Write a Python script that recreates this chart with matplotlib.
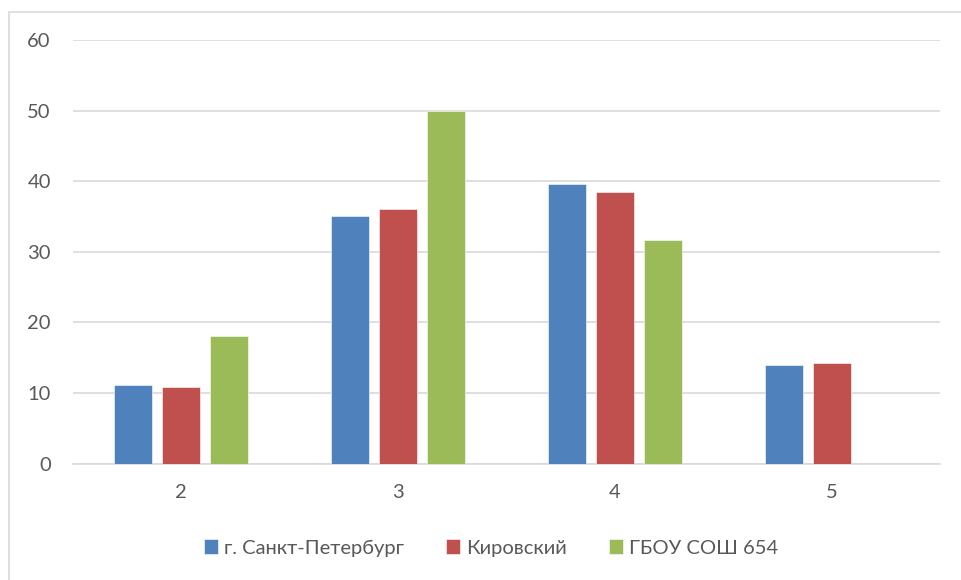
import matplotlib.pyplot as plt
import numpy as np

plt.rcParams['font.family'] = ['Lato', 'DejaVu Sans']

categories = ['2', '3', '4', '5']
series_names = ['г. Санкт-Петербург', 'Кировский', 'ГБОУ СОШ 654']
spb = [11.1, 35.1, 39.6, 13.9]
kirov = [10.9, 36.1, 38.4, 14.3]
school = [18.1, 50.0, 31.7, 0]
colors = ['#4F81BD', '#C0504D', '#9BBB59']

fig = plt.figure(figsize=(9.62, 5.80), dpi=100)
ax = fig.add_axes([73 / 962, 1 - 463.6 / 580, (940 - 73) / 962, (463.6 - 40) / 580])

# chart frame like Excel (cut at right/bottom)
frame = plt.Rectangle((8.5 / 962, -0.1), 1.2, 1 - 11.5 / 580 + 0.1, transform=fig.transFigure,
                      fill=False, edgecolor='#D9D9D9', linewidth=1.2, zorder=-1)
fig.patches.append(frame)

x = np.arange(len(categories))
step = 0.2215
width = 0.175
for i, (vals, name) in enumerate(zip([spb, kirov, school], series_names)):
    ax.bar(x + (i - 1) * step, vals, width, color=colors[i], label=name,
           edgecolor='white', linewidth=0.4, zorder=3)

ax.set_xlim(-0.5, 3.5)
ax.set_ylim(0, 60)
ax.set_yticks(range(0, 61, 10))
ax.set_xticks(x)
ax.set_xticklabels(categories)
ax.grid(axis='y', color='#D9D9D9', linewidth=1.2, zorder=0)
for s in ['top', 'right', 'left']:
    ax.spines[s].set_visible(False)
ax.spines['bottom'].set_color('#D9D9D9')
ax.spines['bottom'].set_linewidth(1.2)
ax.tick_params(axis='both', length=0, labelsize=14.5, labelcolor='#595959')
ax.tick_params(axis='y', pad=16)
ax.tick_params(axis='x', pad=15)

ax.legend(loc='center', bbox_to_anchor=(491 / 962, 1 - 548 / 580), bbox_transform=fig.transFigure,
          ncol=3, frameon=False, fontsize=14.5, labelcolor='#595959',
          handlelength=0.7, handleheight=0.7, handletextpad=0.3, columnspacing=2.1)

fig.savefig('out.png', dpi=100)
